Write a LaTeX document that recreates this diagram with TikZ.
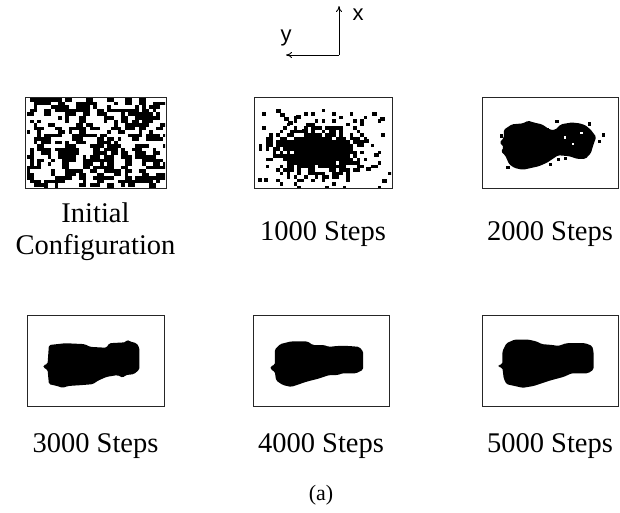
\documentclass[tikz,border=0pt]{standalone}
\usepackage{fontspec}
\setmainfont{Liberation Serif}
\newfontfamily\axisfont{Liberation Sans}
\usetikzlibrary{arrows.meta}
\begin{document}
\begin{tikzpicture}[x=1pt,y=-1pt,
  panel/.style={draw=black!85, line width=0.9pt, inner sep=0pt, anchor=north west},
  lab/.style={font=\fontsize{28.5}{33}\selectfont, inner sep=0pt, anchor=base},
  axlab/.style={font=\axisfont\fontsize{22}{24}\selectfont, inner sep=0pt, anchor=base},
  blob/.style={fill=black, rounded corners=1.5pt},
  axarrow/.style={line width=0.9pt, -{To[length=6pt,width=6pt]}}]
\useasboundingbox (0,0) rectangle (620,512);

% axes
\coordinate (o) at (339,55);
\coordinate (xe) at (339,6);
\coordinate (ye) at (286,55);
\draw[axarrow] (o) -- (xe);
\draw[axarrow] (o) -- (ye);
\node[axlab] (xl) at (358,20) {x};
\node[axlab] (yl) at (286,41) {y};

% ---------- Initial configuration ----------
\begin{scope}[shift={(25,97)}]
  \clip (1,1) rectangle (140,90);
  \pgfmathsetseed{11}
  \foreach \i in {0,...,39}{
    \foreach \j in {0,...,24}{
      \pgfmathsetmacro\r{rnd}
      \ifdim\r pt<0.27pt
        \pgfmathsetmacro\w{3.5*(1+int(rnd*2.2))}
        \pgfmathsetmacro\h{3.55*(1+int(rnd*1.3))}
        \fill (1.5+\i*3.5,1.2+\j*3.55) rectangle ++(\w,\h);
      \fi
    }
  }
\end{scope}

% ---------- 1000 steps ----------
\begin{scope}[shift={(254,97)}]
  \clip (1,1) rectangle (137,90);
  \pgfmathsetseed{5}
  \foreach \i in {0,...,38}{
    \foreach \j in {0,...,25}{
      \pgfmathsetmacro\p{1.4*exp(-((\i-17.5)*(\i-17.5)/160+(\j-14.5)*(\j-14.5)/42))+0.004}
      \pgfmathsetmacro\r{rnd}
      \ifdim\r pt<\p pt
        \fill (1+\i*3.5,1+\j*3.5) rectangle ++(3.9,3.9);
      \fi
    }
  }
  \foreach \a/\b in {22/12, 26/16, 30/20, 34/24, 42/18, 52/26, 48/32, 118/15, 126/20, 110/42, 120/56, 112/70}
    \fill (\a,\b) rectangle ++(4.5,4);
  \fill (4,81) rectangle ++(4,4);
  \fill (10,81) rectangle ++(4,4);
  \fill (128,82) rectangle ++(5,4);
\end{scope}

% ---------- 2000 steps ----------
\begin{scope}[shift={(482,97)}, xscale=1.36, yscale=0.91]
  \fill[blob] (22,30) -- (30,29) -- (34,26) -- (38,28) -- (44,30) -- (50,36) -- (54,36)
    -- (58,30) -- (66,28) -- (72,29) -- (76,31) -- (80,36) -- (84,44) -- (82,52)
    -- (80,62) -- (76,68) -- (70,68) -- (64,65) -- (56,64) -- (52,68) -- (48,72)
    -- (42,76) -- (36,78) -- (30,80) -- (24,78) -- (20,74) -- (17,64) -- (14,60)
    -- (16,55) -- (13,50) -- (16,45) -- (16,36) -- cycle;
  \foreach \a/\b in {54/25, 13/41, 18/76, 49/72, 55/67, 60/66, 85/47, 78/28, 63/60, 47/34, 88/40}
    \fill (\a,\b) rectangle ++(2.5,3.5);
  \foreach \a/\b in {66/50, 72/38, 60/43}
    \fill[white] (\a,\b) rectangle ++(2,3);
\end{scope}

% ---------- 3000 steps ----------
\begin{scope}[shift={(27,315)}, xscale=1.37, yscale=0.91]
  \fill[blob] (16,33) -- (28,31) -- (42,32) -- (46,35) -- (58,36) -- (60,31) -- (72,30)
    -- (73,27) -- (75,29) -- (80,31) -- (82,36) -- (82,60) -- (78,65) -- (72,66)
    -- (70,69) -- (66,66) -- (58,68) -- (52,72) -- (48,76) -- (40,77) -- (30,78)
    -- (26,80) -- (22,78) -- (16,76) -- (15,60) -- (12,58) -- (12,55) -- (15,54) -- cycle;
\end{scope}

% ---------- 4000 steps ----------
\begin{scope}[shift={(253,315)}, xscale=1.36, yscale=0.91]
  \fill[blob] (20,32) -- (28,29) -- (40,29) -- (44,33) -- (52,33) -- (56,35) -- (62,34)
    -- (70,34) -- (78,35) -- (81,40) -- (81,60) -- (76,64) -- (66,64) -- (62,66)
    -- (56,66) -- (48,70) -- (40,73) -- (32,77) -- (28,79) -- (22,77) -- (17,72)
    -- (16,62) -- (13,60) -- (13,56) -- (16,55) -- (16,38) -- cycle;
\end{scope}

% ---------- 5000 steps ----------
\begin{scope}[shift={(482,315)}, xscale=1.36, yscale=0.91]
  \fill[blob] (18,31) -- (24,27) -- (34,27) -- (40,29) -- (44,32) -- (52,33) -- (56,34)
    -- (62,31) -- (76,31) -- (81,34) -- (82,40) -- (82,60) -- (78,64) -- (66,64)
    -- (60,68) -- (50,72) -- (44,75) -- (38,78) -- (30,80) -- (24,78) -- (18,76)
    -- (16,70) -- (15,58) -- (12,57) -- (12,55) -- (15,54) -- (15,40) -- cycle;
\end{scope}

% panel frames
\node[panel, minimum width=141pt, minimum height=91pt] (p1) at (25,97) {};
\node[panel, minimum width=138pt, minimum height=91pt] (p2) at (254,97) {};
\node[panel, minimum width=136pt, minimum height=91pt] (p3) at (482,97) {};
\node[panel, minimum width=137pt, minimum height=91pt] (p4) at (27,315) {};
\node[panel, minimum width=136pt, minimum height=91pt] (p5) at (253,315) {};
\node[panel, minimum width=136pt, minimum height=91pt] (p6) at (482,315) {};

% labels
\node[lab] (l1a) at (95.5,222) {Initial};
\node[lab] (l1b) at (95.5,254) {Configuration};
\node[lab] (l2) at (323,240) {1000 Steps};
\node[lab] (l3) at (550,240) {2000 Steps};
\node[lab] (l4) at (95.5,452) {3000 Steps};
\node[lab] (l5) at (321,452) {4000 Steps};
\node[lab] (l6) at (550,452) {5000 Steps};
\node[font=\fontsize{22}{24}\selectfont, inner sep=0pt, anchor=base] (cap) at (321,500) {(a)};
\end{tikzpicture}
\end{document}
